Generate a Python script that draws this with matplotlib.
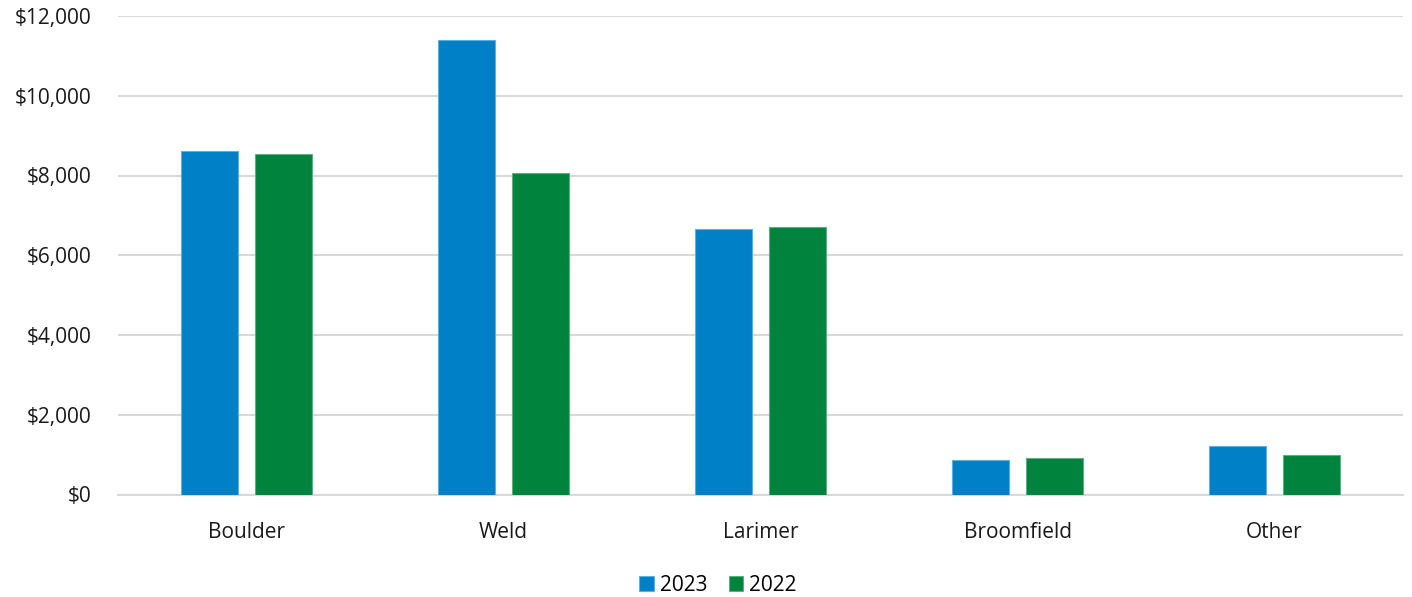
import matplotlib.pyplot as plt
import numpy as np

plt.rcParams['font.family'] = ['Open Sans', 'DejaVu Sans']

counties = ["Boulder", "Weld", "Larimer", "Broomfield", "Other"]
vals_2023 = [8612, 11405, 6655, 866, 1217]
vals_2022 = [8545, 8060, 6720, 916, 984]

blue = "#0080C6"
green = "#00843D"

fig = plt.figure(figsize=(14.12, 5.97), dpi=100)
ax = fig.add_axes([118 / 1412, 1 - 494.5 / 597, 1285 / 1412, 478.5 / 597])

x = np.arange(len(counties))
w = 0.222
off = 0.143
ax.bar(x - off, vals_2023, w, color=blue, edgecolor="#5DB1E0", linewidth=0.8,
       label="2023", zorder=3)
ax.bar(x + off, vals_2022, w, color=green, edgecolor="#5EAE82", linewidth=0.8,
       label="2022", zorder=3)

ax.set_xlim(-0.5, len(counties) - 0.5)
ax.set_ylim(0, 12000)
ax.set_yticks(np.arange(0, 12001, 2000))
ax.set_yticklabels([f"${v:,.0f}" for v in np.arange(0, 12001, 2000)])
ax.set_xticks(x)
ax.set_xticklabels(counties)
ax.grid(axis="y", color="#D9D9D9", linewidth=1.5, zorder=0)
ax.tick_params(length=0, labelsize=15, colors="#1a1a1a")
ax.tick_params(axis="y", pad=19)
ax.tick_params(axis="x", pad=20)
for s in ["top", "right", "left"]:
    ax.spines[s].set_visible(False)
ax.spines["bottom"].set_color("#D9D9D9")
ax.spines["bottom"].set_linewidth(1.5)

ax.legend(loc="center", bbox_to_anchor=(0.467, -0.19), ncol=2, frameon=False,
          fontsize=15, handlelength=0.7, handleheight=0.7, handletextpad=0.3,
          columnspacing=1.0)

fig.savefig("out.png", dpi=100)
